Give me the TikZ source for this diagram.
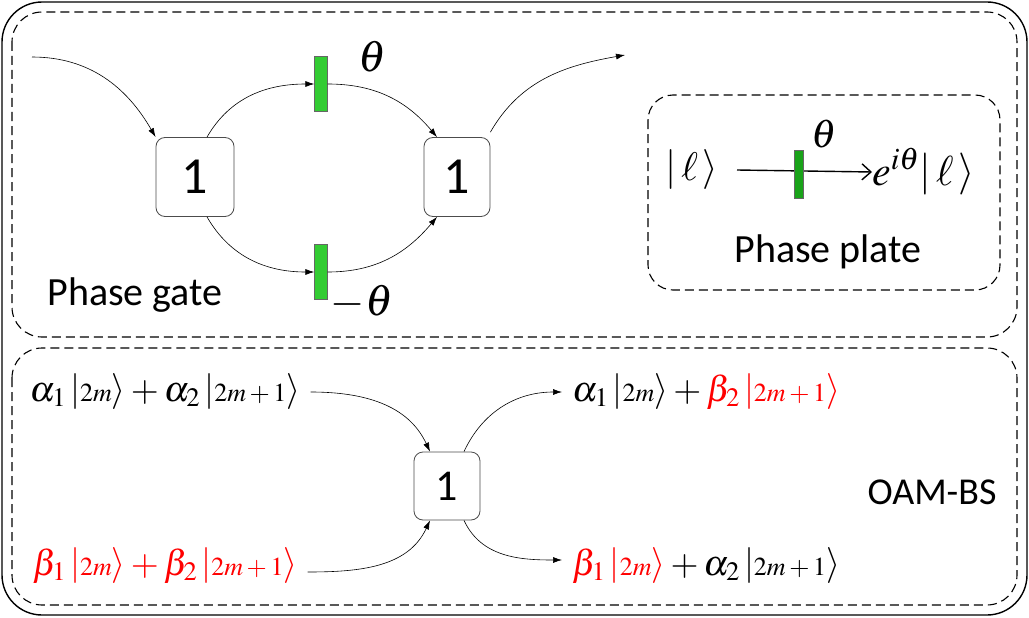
\documentclass[tikz,border=0pt]{standalone}
\usepackage{mathptmx}
\usepackage{fontspec}
\setmainfont{Carlito}
\usetikzlibrary{arrows.meta}
\newcommand\kk[1]{\left|\mbox{\fontsize{26}{26}\selectfont$#1$}\right\rangle}
\begin{document}
\begin{tikzpicture}[x=1pt,y=-1pt,
 bx/.style={draw=black!70,line width=0.8pt,rounded corners=9pt,inner sep=0pt,fill=white},
 plate/.style={draw=black!60,fill=green!75!black!80,inner sep=0pt,minimum width=13pt,minimum height=55pt},
 arr/.style={-{Latex[length=9pt,width=6pt]},line width=0.6pt},
 mt/.style={font=\fontsize{36}{40}\selectfont,inner sep=0pt},
 lb/.style={font=\fontsize{40}{44}\selectfont}]
\useasboundingbox (0,0) rectangle (1029,618);
\draw[line width=1.4pt,rounded corners=40pt] (2,2) rectangle (1027,615);
\draw[dashed,line width=1.1pt,dash pattern=on 9pt off 5pt,rounded corners=30pt] (12,12) rectangle (1017,337);
\draw[dashed,line width=1.1pt,dash pattern=on 9pt off 5pt,rounded corners=30pt] (12,348) rectangle (1017,605);
\draw[dashed,line width=1.1pt,dash pattern=on 9pt off 5pt,rounded corners=25pt] (648,95) rectangle (1000,290);
% phase gate
\node[bx,minimum width=78pt,minimum height=79pt,font=\fontsize{52}{52}\selectfont] (b1) at (195,177) {1};
\node[bx,minimum width=66pt,minimum height=79pt,font=\fontsize{52}{52}\selectfont] (b2) at (457,177) {1};
\node[plate] (p1) at (321,84) {};
\node[plate] (p2) at (321,272) {};
\node[mt,font=\fontsize{44}{44}\selectfont] (t1) at (372,57) {$\theta$};
\node[mt,font=\fontsize{44}{44}\selectfont] (t2) at (362,302) {$-\theta$};
\coordinate (in) at (32,57);
\coordinate (out) at (625,55);
\draw[arr] (in) to[out=0,in=120] (b1.north west);
\draw[arr] (b1.north) ++(12,0) to[out=60,in=180] (p1.west);
\draw[arr] (p1.east) to[out=0,in=130] ([xshift=-20pt]b2.north);
\draw[arr] ([yshift=5pt]b2.north east) to[out=60,in=190] (out);
\draw[arr] ([xshift=12pt]b1.south) to[out=-60,in=180] (p2.west);
\draw[arr] (p2.east) to[out=0,in=-130] ([xshift=-20pt]b2.south);
\node[lb] (pg) at (135,295) {Phase gate};
% phase plate
\node[mt,font=\fontsize{40}{44}\selectfont] (l1) at (692,170) {$\left|\,\ell\,\right\rangle$};
\coordinate (a1) at (737,170);
\node[mt,anchor=west,font=\fontsize{42}{44}\selectfont] (l2) at (872,172) {$e^{i\theta}\!\left|\,\ell\,\right\rangle$};
\draw[-{Straight Barb[length=9pt,width=16pt]},line width=1.4pt] (a1) -- (l2.west);
\node[draw=black!60,fill=green!60!black!90,inner sep=0pt,minimum width=9pt,minimum height=48pt] (p3) at (799,174) {};
\node[mt,font=\fontsize{40}{44}\selectfont] (t3) at (824,134) {$\theta$};
\node[lb] (pp) at (828,252) {Phase plate};
% OAM-BS
\node[bx,minimum width=66pt,minimum height=68pt,font=\fontsize{44}{44}\selectfont] (b3) at (447,486) {1};
\node[mt] (s1) at (165,392) {$\alpha_1\kk{2m}+\alpha_2\kk{2m+1}$};
\node[mt,red] (s2) at (165,566) {$\beta_1\kk{2m}+\beta_2\kk{2m+1}$};
\node[mt,anchor=west] (s3) at (572,392) {$\alpha_1\kk{2m}+\textcolor{red}{\beta_2\kk{2m+1}}$};
\node[mt,anchor=west] (s4) at (572,566) {$\textcolor{red}{\beta_1\kk{2m}}+\alpha_2\kk{2m+1}$};
\node[lb,font=\fontsize{38}{40}\selectfont] (oam) at (932,492) {OAM-BS};
\draw[arr] (s1.east) ++(10,0) to[out=0,in=115] ([xshift=-17pt]b3.north);
\draw[arr] (s2.east) ++(10,6) to[out=0,in=-115] ([xshift=-17pt]b3.south);
\draw[arr] ([xshift=17pt]b3.north) to[out=65,in=180] ([xshift=-10pt]s3.west);
\draw[arr] ([xshift=17pt]b3.south) to[out=-65,in=180] ([xshift=-10pt,yshift=6pt]s4.west);
\end{tikzpicture}
\end{document}
